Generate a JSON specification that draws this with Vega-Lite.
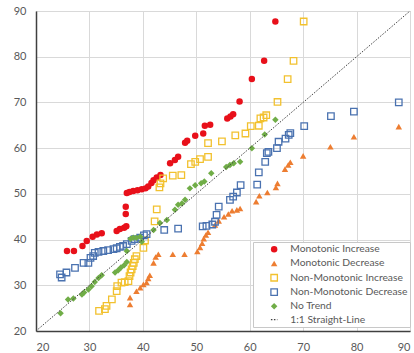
{
  "$schema": "https://vega.github.io/schema/vega-lite/v6.json",
  "width": 374,
  "height": 320,
  "autosize": "none",
  "padding": {"left": 36, "top": 11, "right": 4, "bottom": 22},
  "background": "white",
  "config": {
    "view": {"stroke": "#a6a6a6", "strokeWidth": 1},
    "font": "Lato",
    "axis": {
      "title": null,
      "grid": true,
      "gridColor": "#d9d9d9",
      "gridWidth": 1,
      "ticks": false,
      "domainColor": "#404040",
      "domainWidth": 1.5,
      "labelColor": "#595959",
      "labelFontSize": 11,
      "labelFont": "Lato"
    },
    "legend": {
      "title": null,
      "orient": "none",
      "legendX": 217,
      "legendY": 231,
      "padding": 2,
      "fillColor": "white",
      "strokeColor": "#c8c8c8",
      "labelFontSize": 10.3,
      "labelColor": "#595959",
      "labelFont": "Lato",
      "labelLimit": 300,
      "symbolOffset": 14,
      "labelOffset": 11,
      "rowPadding": 2.3,
      "symbolStrokeWidth": 1.3
    }
  },
  "layer": [
    {
      "data": {
        "values": [
          {"series": "Monotonic Increase", "x": 25.8, "y": 37.5},
          {"series": "Monotonic Increase", "x": 27.1, "y": 37.5},
          {"series": "Monotonic Increase", "x": 28.7, "y": 38.6},
          {"series": "Monotonic Increase", "x": 29.5, "y": 39.7},
          {"series": "Monotonic Increase", "x": 30.6, "y": 40.6},
          {"series": "Monotonic Increase", "x": 31.4, "y": 41.1},
          {"series": "Monotonic Increase", "x": 32.3, "y": 41.4},
          {"series": "Monotonic Increase", "x": 35.1, "y": 41.9},
          {"series": "Monotonic Increase", "x": 35.7, "y": 42.3},
          {"series": "Monotonic Increase", "x": 36.5, "y": 42.6},
          {"series": "Monotonic Increase", "x": 36.9, "y": 42.9},
          {"series": "Monotonic Increase", "x": 36.8, "y": 45.6},
          {"series": "Monotonic Increase", "x": 36.8, "y": 47.2},
          {"series": "Monotonic Increase", "x": 37.0, "y": 50.2},
          {"series": "Monotonic Increase", "x": 37.5, "y": 50.4},
          {"series": "Monotonic Increase", "x": 38.2, "y": 50.6},
          {"series": "Monotonic Increase", "x": 39.0, "y": 50.8},
          {"series": "Monotonic Increase", "x": 39.8, "y": 51.0},
          {"series": "Monotonic Increase", "x": 40.5, "y": 51.2},
          {"series": "Monotonic Increase", "x": 41.0, "y": 51.6},
          {"series": "Monotonic Increase", "x": 41.6, "y": 52.4},
          {"series": "Monotonic Increase", "x": 42.0, "y": 53.0},
          {"series": "Monotonic Increase", "x": 42.6, "y": 53.6},
          {"series": "Monotonic Increase", "x": 43.3, "y": 54.1},
          {"series": "Monotonic Increase", "x": 45.1, "y": 56.7},
          {"series": "Monotonic Increase", "x": 46.0, "y": 57.4},
          {"series": "Monotonic Increase", "x": 46.6, "y": 58.1},
          {"series": "Monotonic Increase", "x": 47.9, "y": 61.2},
          {"series": "Monotonic Increase", "x": 48.3, "y": 61.6},
          {"series": "Monotonic Increase", "x": 49.8, "y": 62.7},
          {"series": "Monotonic Increase", "x": 51.3, "y": 63.2},
          {"series": "Monotonic Increase", "x": 51.6, "y": 64.9},
          {"series": "Monotonic Increase", "x": 52.6, "y": 65.1},
          {"series": "Monotonic Increase", "x": 55.8, "y": 66.5},
          {"series": "Monotonic Increase", "x": 56.4, "y": 66.9},
          {"series": "Monotonic Increase", "x": 56.9, "y": 67.4},
          {"series": "Monotonic Increase", "x": 58.1, "y": 70.2},
          {"series": "Monotonic Increase", "x": 60.4, "y": 75.1},
          {"series": "Monotonic Increase", "x": 62.7, "y": 79.1},
          {"series": "Monotonic Increase", "x": 64.8, "y": 87.7},
          {"series": "Monotonic Decrease", "x": 37.6, "y": 25.8},
          {"series": "Monotonic Decrease", "x": 37.6, "y": 27.3},
          {"series": "Monotonic Decrease", "x": 38.8, "y": 28.7},
          {"series": "Monotonic Decrease", "x": 39.5, "y": 29.5},
          {"series": "Monotonic Decrease", "x": 40.1, "y": 30.2},
          {"series": "Monotonic Decrease", "x": 40.7, "y": 30.6},
          {"series": "Monotonic Decrease", "x": 41.0, "y": 31.5},
          {"series": "Monotonic Decrease", "x": 41.3, "y": 32.2},
          {"series": "Monotonic Decrease", "x": 42.0, "y": 34.9},
          {"series": "Monotonic Decrease", "x": 42.4, "y": 36.2},
          {"series": "Monotonic Decrease", "x": 42.9, "y": 36.8},
          {"series": "Monotonic Decrease", "x": 45.6, "y": 36.8},
          {"series": "Monotonic Decrease", "x": 47.8, "y": 36.8},
          {"series": "Monotonic Decrease", "x": 50.2, "y": 37.4},
          {"series": "Monotonic Decrease", "x": 50.7, "y": 38.3},
          {"series": "Monotonic Decrease", "x": 51.1, "y": 39.2},
          {"series": "Monotonic Decrease", "x": 51.4, "y": 40.2},
          {"series": "Monotonic Decrease", "x": 51.8, "y": 41.0},
          {"series": "Monotonic Decrease", "x": 52.2, "y": 41.6},
          {"series": "Monotonic Decrease", "x": 53.5, "y": 43.2},
          {"series": "Monotonic Decrease", "x": 54.2, "y": 44.1},
          {"series": "Monotonic Decrease", "x": 55.2, "y": 45.0},
          {"series": "Monotonic Decrease", "x": 56.0, "y": 45.6},
          {"series": "Monotonic Decrease", "x": 56.7, "y": 46.3},
          {"series": "Monotonic Decrease", "x": 57.6, "y": 46.5},
          {"series": "Monotonic Decrease", "x": 58.2, "y": 46.8},
          {"series": "Monotonic Decrease", "x": 61.2, "y": 48.3},
          {"series": "Monotonic Decrease", "x": 61.8, "y": 49.6},
          {"series": "Monotonic Decrease", "x": 63.3, "y": 50.3},
          {"series": "Monotonic Decrease", "x": 64.9, "y": 51.4},
          {"series": "Monotonic Decrease", "x": 65.2, "y": 52.3},
          {"series": "Monotonic Decrease", "x": 66.6, "y": 55.4},
          {"series": "Monotonic Decrease", "x": 67.2, "y": 56.3},
          {"series": "Monotonic Decrease", "x": 67.6, "y": 56.9},
          {"series": "Monotonic Decrease", "x": 70.0, "y": 58.3},
          {"series": "Monotonic Decrease", "x": 75.1, "y": 60.3},
          {"series": "Monotonic Decrease", "x": 79.5, "y": 62.5},
          {"series": "Monotonic Decrease", "x": 87.9, "y": 64.7},
          {"series": "Non-Monotonic Increase", "x": 31.8, "y": 24.4},
          {"series": "Non-Monotonic Increase", "x": 32.9, "y": 24.8},
          {"series": "Non-Monotonic Increase", "x": 33.2, "y": 25.5},
          {"series": "Non-Monotonic Increase", "x": 34.2, "y": 26.9},
          {"series": "Non-Monotonic Increase", "x": 35.1, "y": 28.7},
          {"series": "Non-Monotonic Increase", "x": 35.2, "y": 29.8},
          {"series": "Non-Monotonic Increase", "x": 36.0, "y": 30.6},
          {"series": "Non-Monotonic Increase", "x": 36.6, "y": 30.7},
          {"series": "Non-Monotonic Increase", "x": 37.3, "y": 30.9},
          {"series": "Non-Monotonic Increase", "x": 37.5, "y": 32.0},
          {"series": "Non-Monotonic Increase", "x": 37.7, "y": 32.8},
          {"series": "Non-Monotonic Increase", "x": 37.9, "y": 33.5},
          {"series": "Non-Monotonic Increase", "x": 38.1, "y": 34.2},
          {"series": "Non-Monotonic Increase", "x": 38.3, "y": 34.9},
          {"series": "Non-Monotonic Increase", "x": 38.5, "y": 35.7},
          {"series": "Non-Monotonic Increase", "x": 38.8, "y": 36.4},
          {"series": "Non-Monotonic Increase", "x": 40.1, "y": 38.2},
          {"series": "Non-Monotonic Increase", "x": 40.4, "y": 39.8},
          {"series": "Non-Monotonic Increase", "x": 42.2, "y": 44.0},
          {"series": "Non-Monotonic Increase", "x": 42.6, "y": 46.6},
          {"series": "Non-Monotonic Increase", "x": 43.1, "y": 51.4},
          {"series": "Non-Monotonic Increase", "x": 43.3, "y": 52.3},
          {"series": "Non-Monotonic Increase", "x": 43.8, "y": 53.4},
          {"series": "Non-Monotonic Increase", "x": 45.6, "y": 54.0},
          {"series": "Non-Monotonic Increase", "x": 47.2, "y": 54.1},
          {"series": "Non-Monotonic Increase", "x": 49.0, "y": 56.5},
          {"series": "Non-Monotonic Increase", "x": 49.8, "y": 57.0},
          {"series": "Non-Monotonic Increase", "x": 50.7, "y": 57.6},
          {"series": "Non-Monotonic Increase", "x": 52.2, "y": 58.1},
          {"series": "Non-Monotonic Increase", "x": 52.2, "y": 61.1},
          {"series": "Non-Monotonic Increase", "x": 54.8, "y": 61.5},
          {"series": "Non-Monotonic Increase", "x": 57.3, "y": 62.8},
          {"series": "Non-Monotonic Increase", "x": 59.2, "y": 63.2},
          {"series": "Non-Monotonic Increase", "x": 60.2, "y": 64.8},
          {"series": "Non-Monotonic Increase", "x": 61.7, "y": 64.9},
          {"series": "Non-Monotonic Increase", "x": 62.0, "y": 66.5},
          {"series": "Non-Monotonic Increase", "x": 62.6, "y": 66.7},
          {"series": "Non-Monotonic Increase", "x": 63.1, "y": 67.2},
          {"series": "Non-Monotonic Increase", "x": 65.2, "y": 70.1},
          {"series": "Non-Monotonic Increase", "x": 67.1, "y": 75.1},
          {"series": "Non-Monotonic Increase", "x": 68.2, "y": 79.1},
          {"series": "Non-Monotonic Increase", "x": 70.1, "y": 87.7},
          {"series": "Non-Monotonic Decrease", "x": 24.5, "y": 32.4},
          {"series": "Non-Monotonic Decrease", "x": 24.8, "y": 31.7},
          {"series": "Non-Monotonic Decrease", "x": 25.7, "y": 32.8},
          {"series": "Non-Monotonic Decrease", "x": 27.3, "y": 33.8},
          {"series": "Non-Monotonic Decrease", "x": 28.9, "y": 34.9},
          {"series": "Non-Monotonic Decrease", "x": 29.8, "y": 34.9},
          {"series": "Non-Monotonic Decrease", "x": 30.2, "y": 36.0},
          {"series": "Non-Monotonic Decrease", "x": 30.7, "y": 36.4},
          {"series": "Non-Monotonic Decrease", "x": 31.0, "y": 37.1},
          {"series": "Non-Monotonic Decrease", "x": 31.7, "y": 37.3},
          {"series": "Non-Monotonic Decrease", "x": 32.6, "y": 37.5},
          {"series": "Non-Monotonic Decrease", "x": 33.5, "y": 37.7},
          {"series": "Non-Monotonic Decrease", "x": 34.5, "y": 37.9},
          {"series": "Non-Monotonic Decrease", "x": 35.1, "y": 38.1},
          {"series": "Non-Monotonic Decrease", "x": 35.7, "y": 38.4},
          {"series": "Non-Monotonic Decrease", "x": 36.3, "y": 38.6},
          {"series": "Non-Monotonic Decrease", "x": 37.0, "y": 39.0},
          {"series": "Non-Monotonic Decrease", "x": 37.9, "y": 39.7},
          {"series": "Non-Monotonic Decrease", "x": 38.5, "y": 40.1},
          {"series": "Non-Monotonic Decrease", "x": 39.5, "y": 40.4},
          {"series": "Non-Monotonic Decrease", "x": 40.2, "y": 40.9},
          {"series": "Non-Monotonic Decrease", "x": 40.7, "y": 41.2},
          {"series": "Non-Monotonic Decrease", "x": 44.0, "y": 42.1},
          {"series": "Non-Monotonic Decrease", "x": 46.6, "y": 42.4},
          {"series": "Non-Monotonic Decrease", "x": 51.2, "y": 42.9},
          {"series": "Non-Monotonic Decrease", "x": 51.9, "y": 43.0},
          {"series": "Non-Monotonic Decrease", "x": 53.0, "y": 43.3},
          {"series": "Non-Monotonic Decrease", "x": 53.5, "y": 43.9},
          {"series": "Non-Monotonic Decrease", "x": 53.8, "y": 45.4},
          {"series": "Non-Monotonic Decrease", "x": 54.2, "y": 47.2},
          {"series": "Non-Monotonic Decrease", "x": 56.3, "y": 48.7},
          {"series": "Non-Monotonic Decrease", "x": 56.9, "y": 49.4},
          {"series": "Non-Monotonic Decrease", "x": 57.6, "y": 50.3},
          {"series": "Non-Monotonic Decrease", "x": 58.3, "y": 51.9},
          {"series": "Non-Monotonic Decrease", "x": 61.4, "y": 52.0},
          {"series": "Non-Monotonic Decrease", "x": 61.7, "y": 54.7},
          {"series": "Non-Monotonic Decrease", "x": 62.9, "y": 57.0},
          {"series": "Non-Monotonic Decrease", "x": 63.2, "y": 58.9},
          {"series": "Non-Monotonic Decrease", "x": 63.5, "y": 59.2},
          {"series": "Non-Monotonic Decrease", "x": 65.1, "y": 60.0},
          {"series": "Non-Monotonic Decrease", "x": 65.4, "y": 61.4},
          {"series": "Non-Monotonic Decrease", "x": 66.7, "y": 62.1},
          {"series": "Non-Monotonic Decrease", "x": 67.3, "y": 62.9},
          {"series": "Non-Monotonic Decrease", "x": 67.6, "y": 63.3},
          {"series": "Non-Monotonic Decrease", "x": 70.2, "y": 64.8},
          {"series": "Non-Monotonic Decrease", "x": 75.2, "y": 67.0},
          {"series": "Non-Monotonic Decrease", "x": 79.5, "y": 68.0},
          {"series": "Non-Monotonic Decrease", "x": 87.9, "y": 70.0},
          {"series": "No Trend", "x": 24.6, "y": 23.9},
          {"series": "No Trend", "x": 26.0, "y": 26.9},
          {"series": "No Trend", "x": 27.0, "y": 27.1},
          {"series": "No Trend", "x": 28.6, "y": 28.0},
          {"series": "No Trend", "x": 29.0, "y": 28.4},
          {"series": "No Trend", "x": 29.8, "y": 29.1},
          {"series": "No Trend", "x": 30.4, "y": 29.8},
          {"series": "No Trend", "x": 31.0, "y": 30.7},
          {"series": "No Trend", "x": 31.7, "y": 31.6},
          {"series": "No Trend", "x": 32.3, "y": 32.2},
          {"series": "No Trend", "x": 34.8, "y": 32.8},
          {"series": "No Trend", "x": 35.4, "y": 33.3},
          {"series": "No Trend", "x": 35.9, "y": 33.9},
          {"series": "No Trend", "x": 36.5, "y": 34.4},
          {"series": "No Trend", "x": 37.0, "y": 35.1},
          {"series": "No Trend", "x": 37.0, "y": 37.5},
          {"series": "No Trend", "x": 37.7, "y": 40.2},
          {"series": "No Trend", "x": 38.2, "y": 40.4},
          {"series": "No Trend", "x": 38.8, "y": 40.4},
          {"series": "No Trend", "x": 39.5, "y": 40.6},
          {"series": "No Trend", "x": 39.8, "y": 39.5},
          {"series": "No Trend", "x": 42.0, "y": 42.1},
          {"series": "No Trend", "x": 43.2, "y": 43.6},
          {"series": "No Trend", "x": 44.5, "y": 44.3},
          {"series": "No Trend", "x": 46.0, "y": 46.5},
          {"series": "No Trend", "x": 46.6, "y": 47.6},
          {"series": "No Trend", "x": 47.3, "y": 47.9},
          {"series": "No Trend", "x": 47.9, "y": 48.7},
          {"series": "No Trend", "x": 48.8, "y": 51.2},
          {"series": "No Trend", "x": 49.8, "y": 51.9},
          {"series": "No Trend", "x": 50.9, "y": 52.3},
          {"series": "No Trend", "x": 51.5, "y": 52.7},
          {"series": "No Trend", "x": 52.8, "y": 54.5},
          {"series": "No Trend", "x": 55.6, "y": 55.9},
          {"series": "No Trend", "x": 56.3, "y": 56.3},
          {"series": "No Trend", "x": 57.0, "y": 56.7},
          {"series": "No Trend", "x": 58.2, "y": 57.0},
          {"series": "No Trend", "x": 60.4, "y": 60.0},
          {"series": "No Trend", "x": 62.8, "y": 63.0},
          {"series": "No Trend", "x": 64.8, "y": 66.2}
        ]
      },
      "mark": {"type": "point", "opacity": 1, "strokeWidth": 1.3},
      "encoding": {
        "x": {"field": "x", "type": "quantitative", "scale": {"domain": [20, 90], "nice": false, "zero": false},
              "axis": {"values": [20, 30, 40, 50, 60, 70, 80, 90], "labelPadding": 10}},
        "y": {"field": "y", "type": "quantitative", "scale": {"domain": [20, 90], "nice": false, "zero": false},
              "axis": {"values": [20, 30, 40, 50, 60, 70, 80, 90], "labelPadding": 10}},
        "fill": {
          "field": "series", "type": "nominal", "sort": null,
          "scale": {
            "domain": ["Monotonic Increase", "Monotonic Decrease", "Non-Monotonic Increase", "Non-Monotonic Decrease", "No Trend", "1:1 Straight-Line"],
            "range": ["#e8101a", "#ed7d31", "transparent", "transparent", "#70ad47", "transparent"]
          },
          "legend": {"title": null}
        },
        "stroke": {
          "field": "series", "type": "nominal", "sort": null,
          "scale": {
            "domain": ["Monotonic Increase", "Monotonic Decrease", "Non-Monotonic Increase", "Non-Monotonic Decrease", "No Trend", "1:1 Straight-Line"],
            "range": ["transparent", "transparent", "#f2c12e", "#4a72b0", "transparent", "#404040"]
          },
          "legend": {"title": null}
        },
        "shape": {
          "field": "series", "type": "nominal", "sort": null,
          "scale": {
            "domain": ["Monotonic Increase", "Monotonic Decrease", "Non-Monotonic Increase", "Non-Monotonic Decrease", "No Trend", "1:1 Straight-Line"],
            "range": ["circle", "triangle-up", "square", "square", "diamond", "stroke"]
          },
          "legend": {"title": null}
        },
        "size": {
          "field": "series", "type": "nominal", "sort": null,
          "scale": {
            "domain": ["Monotonic Increase", "Monotonic Decrease", "Non-Monotonic Increase", "Non-Monotonic Decrease", "No Trend", "1:1 Straight-Line"],
            "range": [42, 42, 46, 46, 34, 44]
          },
          "legend": {"title": null}
        },
        "strokeDash": {
          "field": "series", "type": "nominal", "sort": null,
          "scale": {
            "domain": ["Monotonic Increase", "Monotonic Decrease", "Non-Monotonic Increase", "Non-Monotonic Decrease", "No Trend", "1:1 Straight-Line"],
            "range": [[1, 0], [1, 0], [1, 0], [1, 0], [1, 0], [1.5, 1.5]]
          },
          "legend": {"title": null}
        }
      }
    },
    {
      "data": {"values": [{"x": 20, "y": 20}, {"x": 90, "y": 90}]},
      "mark": {"type": "line", "color": "#404040", "strokeWidth": 1, "strokeDash": [1.5, 1.5]},
      "encoding": {
        "x": {"field": "x", "type": "quantitative", "scale": {"domain": [20, 90], "nice": false, "zero": false}},
        "y": {"field": "y", "type": "quantitative", "scale": {"domain": [20, 90], "nice": false, "zero": false}}
      }
    }
  ]
}
